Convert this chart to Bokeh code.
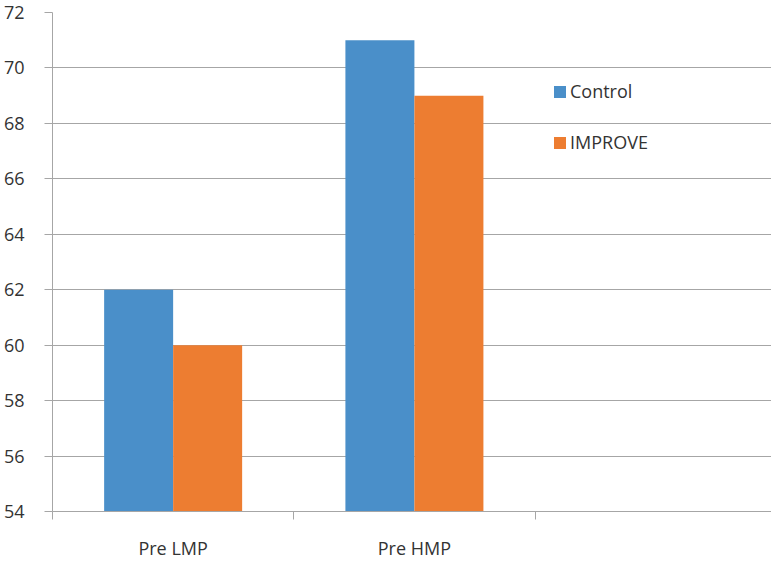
from bokeh.plotting import figure
from bokeh.models import Range1d, FixedTicker, Legend, LegendItem, ColumnDataSource
from bokeh.transform import dodge
from bokeh.embed import file_html
from bokeh.resources import INLINE

categories = ["Pre LMP", "Pre HMP"]
control = [62, 71]
improve = [60, 69]
y_ticks = [54, 56, 58, 60, 62, 64, 66, 68, 70, 72]

FONT = "Open Sans"
TXT = "#333333"
GRID = "#a6a6a6"

centers = [i + 0.5 for i in range(len(categories))]
src = ColumnDataSource(dict(x=centers, control=control, improve=improve))

p = figure(width=771, height=562, output_backend="svg", toolbar_location=None,
           x_range=Range1d(0, 2.98), y_range=Range1d(54, 72),
           min_border_left=50, min_border_right=0, min_border_top=12, min_border_bottom=49)
p.outline_line_color = None
p.background_fill_color = "white"

bw = 0.286
r1 = p.vbar(x=dodge("x", -bw / 2, range=p.x_range), top="control", bottom=54, width=bw,
            source=src, fill_color="#4a8fc9", line_color=None)
r2 = p.vbar(x=dodge("x", bw / 2, range=p.x_range), top="improve", bottom=54, width=bw,
            source=src, fill_color="#ed7d31", line_color=None)

# x axis
p.xaxis.ticker = FixedTicker(ticks=centers, minor_ticks=[0, 1, 2])
p.xaxis.major_label_overrides = {c: lab for c, lab in zip(centers, categories)}
p.xaxis.major_tick_out = 0
p.xaxis.major_tick_in = 0
p.xaxis.minor_tick_out = 8
p.xaxis.minor_tick_in = 0
p.xaxis.minor_tick_line_color = GRID
p.xaxis.axis_line_color = GRID
p.xaxis.major_label_standoff = 16
p.xaxis.major_label_text_font = FONT
p.xaxis.major_label_text_font_size = "18px"
p.xaxis.major_label_text_color = TXT

# y axis
p.yaxis.ticker = FixedTicker(ticks=y_ticks)
p.yaxis.major_tick_out = 8
p.yaxis.major_tick_in = 0
p.yaxis.minor_tick_line_color = None
p.yaxis.major_tick_line_color = GRID
p.yaxis.axis_line_color = GRID
p.yaxis.major_label_standoff = 20
p.yaxis.major_label_text_font = FONT
p.yaxis.major_label_text_font_size = "18px"
p.yaxis.major_label_text_color = TXT

p.xgrid.grid_line_color = None
p.ygrid.grid_line_color = GRID
p.ygrid.ticker = FixedTicker(ticks=y_ticks)

legend = Legend(items=[LegendItem(label="Control", renderers=[r1]),
                       LegendItem(label="IMPROVE", renderers=[r2])],
                location=(500, 357), orientation="vertical",
                glyph_width=15, glyph_height=15, label_standoff=3,
                label_height=15, spacing=27, padding=0, margin=0,
                background_fill_alpha=0, border_line_color=None,
                label_text_font=FONT, label_text_font_size="18px", label_text_color=TXT)
p.add_layout(legend)

open("out.html", "w").write(file_html(p, INLINE))
